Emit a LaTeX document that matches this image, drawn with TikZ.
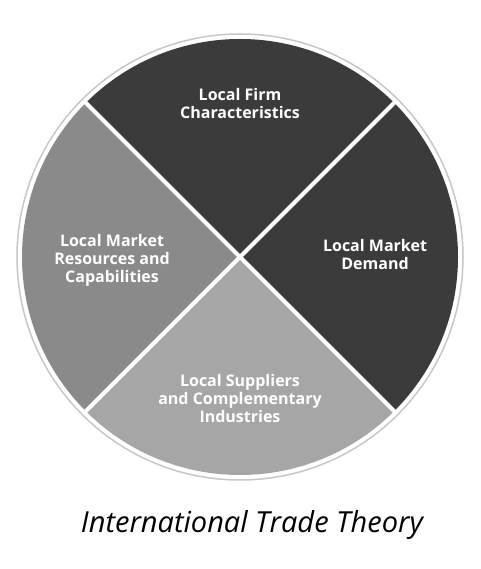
\documentclass[tikz,border=0pt]{standalone}
\usepackage{fontspec}
\setmainfont{Open Sans}
\newfontfamily\captionfont{Open Sans}
\begin{document}
\begin{tikzpicture}[
    x=1pt, y=1pt,
    every node/.style={font=\bfseries\fontsize{16}{18}\selectfont, align=center, text=white},
    wedge/.style={draw=none},
    sep/.style={white, line width=4pt},
]
    \useasboundingbox (0,0) rectangle (480,569);
    \begin{scope}[shift={(240,312)}]
        % outer ring
        \draw[black!22, line width=1.5pt] (0,0) circle (223);
        % quadrants
        \fill[wedge, black!77] (0,0) -- (45:218) arc (45:135:218) -- cycle;
        \fill[wedge, black!77] (0,0) -- (-45:218) arc (-45:45:218) -- cycle;
        \fill[wedge, black!35] (0,0) -- (225:218) arc (225:315:218) -- cycle;
        \fill[wedge, black!46] (0,0) -- (135:218) arc (135:225:218) -- cycle;
        \draw[sep] (45:219) -- (225:219);
        \draw[sep] (135:219) -- (315:219);
        % labels
        \node (firm) at (0,153) {Local Firm\\Characteristics};
        \node (demand) at (135,2) {Local Market\\Demand};
        \node (resources) at (-128,-3) {Local Market\\Resources and\\Capabilities};
        \node (suppliers) at (0,-142) {Local Suppliers\\and Complementary\\Industries};
    \end{scope}
    \node[font=\captionfont\itshape\fontsize{29}{34}\selectfont, text=black] (title) at (252,44) {International Trade Theory};
\end{tikzpicture}
\end{document}
